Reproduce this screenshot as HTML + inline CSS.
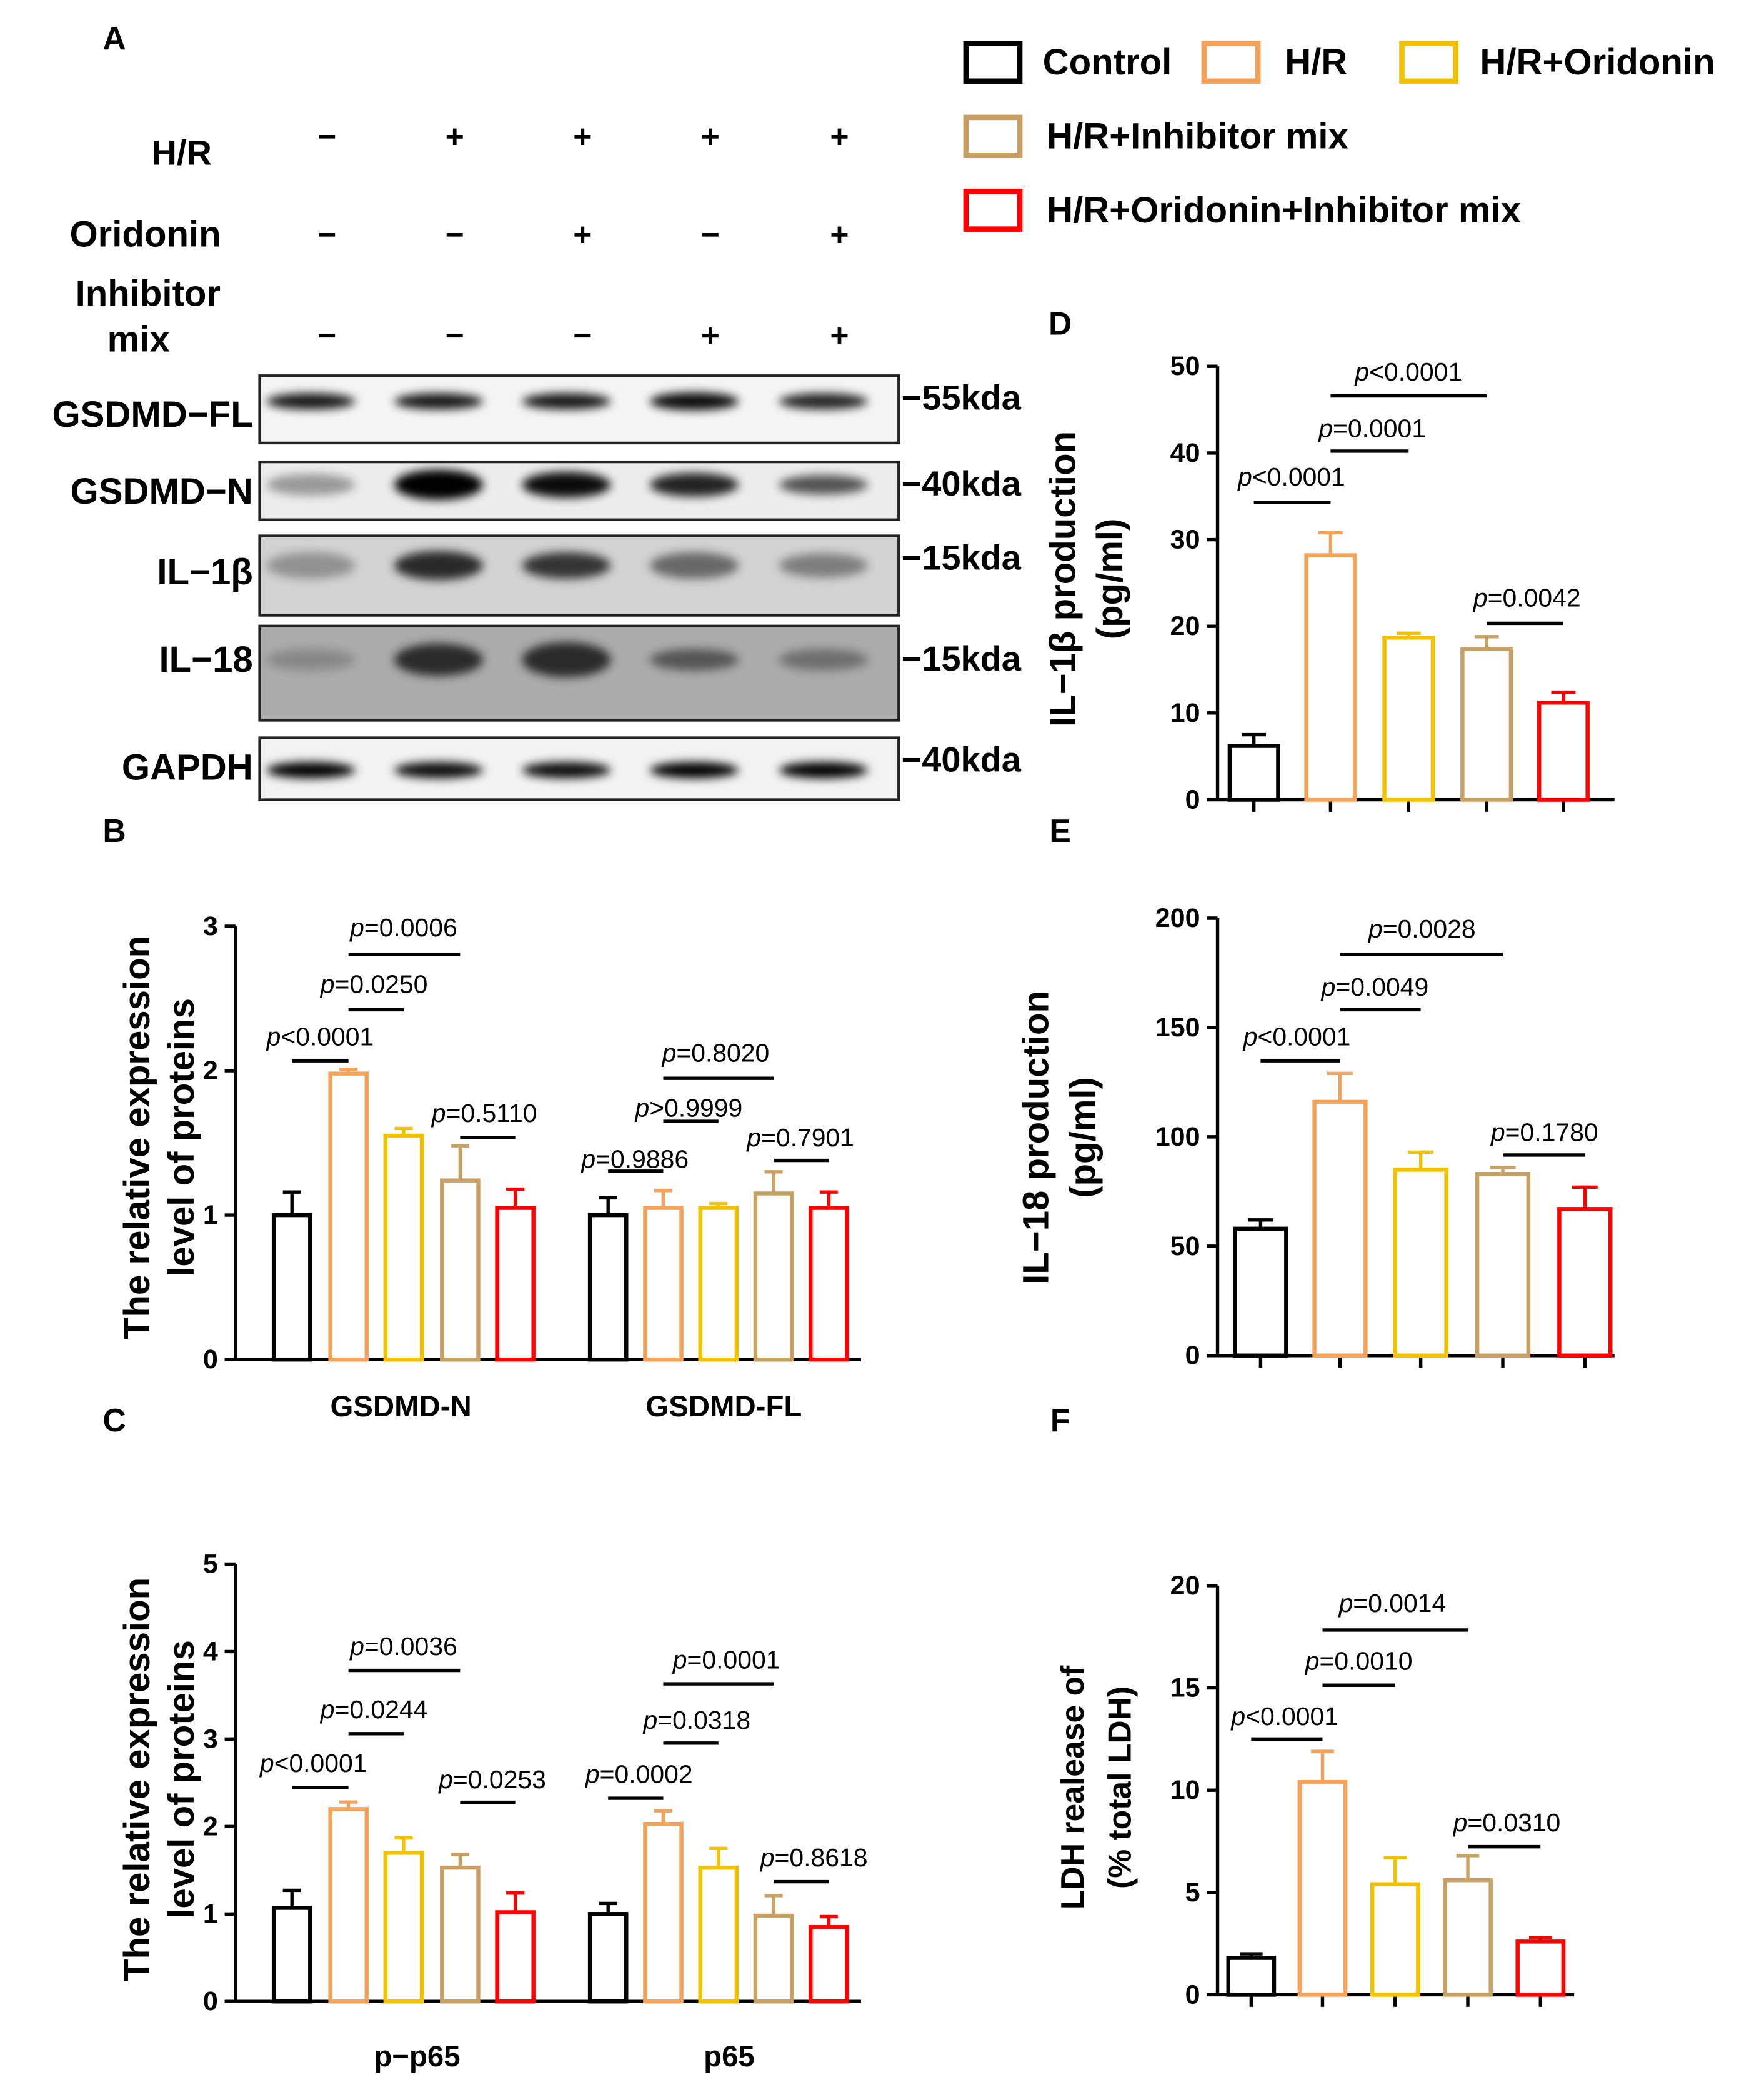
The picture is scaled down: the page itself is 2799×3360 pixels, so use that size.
<!DOCTYPE html>
<html><head><meta charset="utf-8"><style>
html,body{margin:0;padding:0;background:#fff;}
svg{display:block;font-family:"Liberation Sans",Arial,sans-serif;}
</style></head><body>
<svg id="fig" width="2799" height="3360" viewBox="0 0 1300 1560" xmlns="http://www.w3.org/2000/svg">
<defs>
<filter id="blur" x="-30%" y="-100%" width="160%" height="300%"><feGaussianBlur stdDeviation="3.5"/></filter>
</defs>
<g id="root"></g>
</svg>
<script>
// ---- data ----
const groupNames = ["Control","H/R","H/R+Oridonin","H/R+Inhibitor mix","H/R+Oridonin+Inhibitor mix"];
const groupColors = ["#000000","#F5A25A","#F2C200","#C8A064","#FF0000"];
const panelBCats = ["GSDMD-N","GSDMD-FL"];
const panelBVals = [[1.0,1.98,1.55,1.24,1.05],[1.0,1.05,1.05,1.15,1.05]];
const panelBErr  = [[0.16,0.03,0.05,0.24,0.13],[0.12,0.12,0.03,0.15,0.11]];
const panelBTicks = [0,1,2,3];
const panelCCats = ["p\u2212p65","p65"];
const panelCVals = [[1.07,2.2,1.7,1.53,1.02],[1.0,2.03,1.53,0.98,0.85]];
const panelCErr  = [[0.2,0.08,0.17,0.15,0.22],[0.12,0.15,0.22,0.23,0.12]];
const panelCTicks = [0,1,2,3,4,5];
const panelDVals = [6.2,28.2,18.7,17.4,11.2];
const panelDErr  = [1.3,2.6,0.5,1.4,1.2];
const panelDTicks = [0,10,20,30,40,50];
const panelEVals = [58,116,85,83,67];
const panelEErr  = [4,13,8,3,10];
const panelETicks = [0,50,100,150,200];
const panelFVals = [1.8,10.4,5.4,5.6,2.6];
const panelFErr  = [0.2,1.5,1.3,1.2,0.2];
const panelFTicks = [0,5,10,15,20];

const NS="http://www.w3.org/2000/svg";
const root=document.getElementById('root');
function mk(tag,attrs,parent,text){const e=document.createElementNS(NS,tag);for(const k in attrs)e.setAttribute(k,attrs[k]);if(text!==undefined)e.textContent=text;(parent||root).appendChild(e);return e;}
function txt(x,y,s,size,opt,parent){opt=opt||{};const e=mk('text',{x:x,y:y,'font-size':size,'font-weight':opt.w||'bold','text-anchor':opt.a||'middle','dominant-baseline':'central',fill:'#000'},parent,s);if(opt.rot)e.setAttribute('transform','rotate(-90 '+x+' '+y+')');return e;}

// ---- legend ----
const leg=[[716,30,775],[893,30,955],[1040,30,1100],[716,85,778],[716,140,778]];
groupNames.forEach((n,i)=>{
  const L=leg[i];
  const r=mk('rect',{x:L[0]+2,y:L[1]+2,width:40,height:28,fill:'none',stroke:groupColors[i],'stroke-width':4});
  
  
  const t=txt(L[2],L[1]+16,n,27,{a:'start'});
  
  
});

// ---- panel letters ----
function letter(x,y,s){const t=txt(x,y,s,24);}
letter(85,28,'A');letter(85,617,'B');letter(85,1055,'C');letter(788,240,'D');letter(788,617,'E');letter(788,1055,'F');

// ---- panel A: blot ----
const laneX=[243,338,433,528,624];
const signs=[["\u2212","+","+","+","+"],["\u2212","\u2212","+","\u2212","+"],["\u2212","\u2212","\u2212","+","+"]];
const signY=[101,174,249];
txt(135,113,'H/R',26);txt(108,174,'Oridonin',27);txt(110,218,'Inhibitor',27);txt(103,252,'mix',27);
signs.forEach((row,r)=>row.forEach((s,i)=>{const t=txt(laneX[i],signY[r],s,24);}));
const blots=[
 {n:'GSDMD\u2212FL',y:279,h:50,bg:'#f4f4f4',kda:'55kda',ly:308,b:[[.9,1],[.9,1],[.9,1],[.95,1.1],[.85,1]],by:298,bh:6},
 {n:'GSDMD\u2212N',y:343,h:43,bg:'#ececec',kda:'40kda',ly:365,b:[[.35,1],[1,1.4],[.95,1.2],[.85,1.1],[.65,0.9]],by:360,bh:8},
 {n:'IL\u22121\u03b2',y:398,h:59,bg:'#d2d2d2',kda:'15kda',ly:425,b:[[.3,1.1],[.8,1.2],[.75,1.1],[.5,1.1],[.4,1.0]],by:420,bh:9},
 {n:'IL\u221218',y:465,h:70,bg:'#ababab',kda:'15kda',ly:490,b:[[.2,0.8],[.75,1.2],[.75,1.3],[.5,0.8],[.35,0.8]],by:490,bh:10},
 {n:'GAPDH',y:548,h:46,bg:'#f2f2f2',kda:'40kda',ly:570,b:[[1,1],[.95,1],[.95,1],[1,1],[1,1]],by:572,bh:6}
];
blots.forEach(B=>{
  const g=mk('g',{});
  
  
  mk('rect',{x:193,y:B.y,width:475,height:B.h,fill:B.bg},g);
  B.b.forEach((v,i)=>{
    const e=mk('ellipse',{cx:laneX[i]-12,cy:B.by,rx:33,ry:B.bh*v[1],fill:'#000',opacity:v[0],filter:'url(#blur)'},g);
    
    
  });
  mk('rect',{x:193,y:B.y,width:475,height:B.h,fill:'none',stroke:'#222','stroke-width':2},g);
  const l=txt(188,B.ly,B.n,27,{a:'end'});
  
  
  const k=txt(670,B.y+(B.n==='IL\u221218'?24:16),'\u2212'+B.kda,26,{a:'start'});
  
  
});

// ---- bar chart helpers ----
function axis(x0,y0,yTop,ticks,xEnd,xtickXs){
  const max=ticks[ticks.length-1];
  const sc=v=>y0-(y0-yTop)*v/max;
  const g=mk('g',{});
  
  
  mk('line',{x1:x0,y1:y0,x2:x0,y2:yTop,stroke:'#000','stroke-width':2.5},g);
  ticks.forEach(t=>{mk('line',{x1:x0-8,y1:sc(t),x2:x0,y2:sc(t),stroke:'#000','stroke-width':2.5},g);txt(x0-13,sc(t),String(t),20,{a:'end'},g);});
  const gx=mk('g',{});
  
  
  mk('line',{x1:x0,y1:y0,x2:xEnd,y2:y0,stroke:'#000','stroke-width':2.5},gx);
  (xtickXs||[]).forEach(x=>mk('line',{x1:x,y1:y0,x2:x,y2:y0+9,stroke:'#000','stroke-width':2.5},gx));
  return sc;
}
function bars(xs,vals,errs,sc,y0,w){
  vals.forEach((v,i)=>{
    const c=groupColors[i];
    const r=mk('rect',{x:xs[i]-w/2,y:sc(v),width:w,height:y0-sc(v),fill:'none',stroke:c,'stroke-width':3});
    
    
    const eT=sc(v+errs[i]);
    const e=mk('path',{d:'M'+xs[i]+' '+sc(v)+'V'+eT+'M'+(xs[i]-w/4)+' '+eT+'H'+(xs[i]+w/4),stroke:c,'stroke-width':2.5,fill:'none'});
    
    
  });
}
function brk(x1,x2,y,ty,label,tx){
  const l=mk('line',{x1:x1,y1:y,x2:x2,y2:y,stroke:'#000','stroke-width':2.5});
  
  
  const t=mk('text',{x:tx,y:ty,'font-size':19,'text-anchor':'middle','dominant-baseline':'central'});
  mk('tspan',{'font-style':'italic'},t,'p');
  mk('tspan',{},t,label);
  
  
}
function ytitle(x,y,s,size){const t=txt(x,y,s,size||26,{rot:true});}

// panel B
const g1=[217,259,300,342,383], g2=[452,493,534,575,616];
let sc=axis(175,1010,688,panelBTicks,640);
bars(g1,panelBVals[0],panelBErr[0],sc,1010,27);
bars(g2,panelBVals[1],panelBErr[1],sc,1010,27);
txt(298,1045,panelBCats[0],22);txt(538,1045,panelBCats[1],22);
ytitle(102,845,'The relative expression',27);ytitle(135,845,'level of proteins',27);
brk(217,259,788,770,'<0.0001',238);brk(259,300,750,731,'=0.0250',278);brk(259,342,709,689,'=0.0006',300);brk(342,383,845,827,'=0.5110',360);
brk(452,493,870,861,'=0.9886',472);brk(493,534,833,823,'>0.9999',512);brk(493,575,801,782,'=0.8020',532);brk(575,616,862,845,'=0.7901',595);

// panel C
sc=axis(175,1487,1162,panelCTicks,640);
bars(g1,panelCVals[0],panelCErr[0],sc,1487,27);
bars(g2,panelCVals[1],panelCErr[1],sc,1487,27);
txt(310,1528,panelCCats[0],22);txt(542,1528,panelCCats[1],22);
ytitle(102,1322,'The relative expression',27);ytitle(135,1322,'level of proteins',27);
brk(217,259,1328,1310,'<0.0001',233);brk(259,300,1288,1270,'=0.0244',278);brk(259,342,1241,1223,'=0.0036',300);brk(342,383,1339,1322,'=0.0253',366);
brk(452,493,1336,1318,'=0.0002',475);brk(493,534,1295,1278,'=0.0318',518);brk(493,575,1251,1233,'=0.0001',540);brk(575,616,1398,1380,'=0.8618',605);

// panel D
const dX=[932,989,1047,1105,1162];
sc=axis(905,594,272,panelDTicks,1200,dX);
bars(dX,panelDVals,panelDErr,sc,594,36);
ytitle(790,430,'IL\u22121\u03b2 production',27);ytitle(825,430,'(pg/ml)',27);
brk(932,989,373,354,'<0.0001',960);brk(989,1047,335,318,'=0.0001',1020);brk(989,1105,294,276,'<0.0001',1047);brk(1105,1162,463,444,'=0.0042',1135);

// panel E
const eX=[937,996,1056,1117,1178];
sc=axis(905,1007,682,panelETicks,1200,eX);
bars(eX,panelEVals,panelEErr,sc,1007,38);
ytitle(770,845,'IL\u221218 production',27);ytitle(805,845,'(pg/ml)',27);
brk(937,996,788,770,'<0.0001',964);brk(996,1056,750,733,'=0.0049',1022);brk(996,1117,709,690,'=0.0028',1057);brk(1117,1178,858,841,'=0.1780',1148);

// panel F
const fX=[930,983,1037,1091,1145];
sc=axis(905,1482,1178,panelFTicks,1170,fX);
bars(fX,panelFVals,panelFErr,sc,1482,34);
ytitle(797,1328,'LDH realease of',24);ytitle(832,1328,'(% total LDH)',24);
brk(930,983,1292,1275,'<0.0001',955);brk(983,1037,1252,1234,'=0.0010',1010);brk(983,1091,1211,1191,'=0.0014',1035);brk(1091,1145,1372,1354,'=0.0310',1120);
</script>
</body></html>
